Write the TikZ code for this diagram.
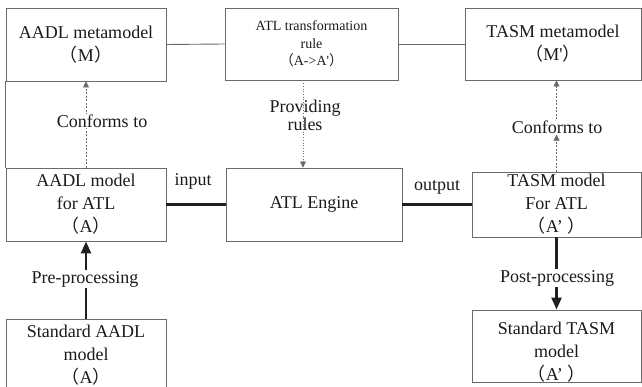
\documentclass[tikz,border=0pt]{standalone}
\usepackage{fontspec}
\setmainfont[Ligatures=TeXOff]{Liberation Serif}
\newfontfamily\cjk{Noto Sans CJK SC}
\usetikzlibrary{arrows.meta}
\newcommand{\myLP}{{\cjk （}}
\newcommand{\myRP}{{\cjk ）}}
\definecolor{boxgray}{HTML}{6A6A6A}
\definecolor{txt}{HTML}{1A1A1A}
\definecolor{thick}{HTML}{202020}
\begin{document}
\begin{tikzpicture}[x=1pt,y=-1pt,
  box/.style={draw=boxgray, line width=0.9pt, align=center, inner sep=0pt, text=txt,
    font=\fontsize{18}{23}\selectfont},
  lbl/.style={text=txt, align=center, inner sep=1pt, font=\fontsize{18}{18}\selectfont},
  lblw/.style={lbl, fill=white},
  thickline/.style={draw=thick, line width=2.4pt},
  dashedarrow/.style={draw=boxgray, line width=0.7pt, dashed, dash pattern=on 2pt off 1.5pt,
    -{Triangle[length=6pt,width=6pt]}},
  bigarrow/.style={thickline, -{Triangle[length=12pt,width=10pt]}}
]
\useasboundingbox (0,0) rectangle (642,387);

% boxes
\node[box, minimum width=160pt, minimum height=73pt] (M) at (86,44.5)
  {AADL metamodel\\\myLP M\myRP};
\node[box, minimum width=173pt, minimum height=72pt,
  font=\fontsize{14}{17.5}\selectfont] (R) at (311.5,44)
  {ATL transformation\\rule\\\myLP A->A'\myRP};
\node[box, minimum width=176pt, minimum height=72pt] (TM) at (553,44)
  {TASM metamodel\\\myLP M'\myRP};
\node[box, minimum width=160pt, minimum height=73pt] (A) at (86,204.5)
  {AADL model\\for ATL\\\myLP A\myRP};
\node[box, minimum width=176pt, minimum height=73pt] (E) at (314,204.5)
  {ATL Engine};
\node[box, minimum width=169pt, minimum height=65pt] (TA) at (556.5,204.5)
  {TASM model\\For ATL\\\myLP A’ \myRP};
\node[box, minimum width=160pt, minimum height=72pt] (SA) at (86,355)
  {Standard AADL\\model\\\myLP A\myRP};
\node[box, minimum width=169pt, minimum height=72pt] (ST) at (556.5,346) {};
\node[text=txt, align=center, inner sep=0pt, font=\fontsize{18}{23}\selectfont] (STt) at (556.5,352)
  {Standard TASM\\model\\\myLP A’ \myRP};

% connectors between top boxes
\draw[boxgray, line width=0.9pt] (M.east) -- (R.west);
\draw[boxgray, line width=0.9pt] (R.east) -- (TM.west);
\draw[boxgray, line width=1.2pt] (M.south west) -- (A.north west);

% input / output
\draw[thickline] (A.east) -- (E.west);
\draw[thickline] (E.east) -- (TA.west);
\node[lbl] (in) at (193,181) {input};
\node[lbl] (out) at (437,187) {output};

% conforms to (left)
\draw[dashedarrow] (A.north) -- (M.south);
\node[lblw] (c1) at (102,121) {Conforms to};

% conforms to (right)
\node[lblw] (c2) at (557,127) {Conforms to};
\draw[dashedarrow] (TA.north) -- (c2.south -| TA.north);
\draw[dashedarrow] (c2.north -| TA.north) -- (TM.south -| TA.north);

% providing rules
\coordinate (pr) at (303,80);
\draw[boxgray, line width=0.7pt, dotted, -{Triangle[length=6pt,width=6pt]}]
  (R.south -| pr) -- (E.north -| pr);
\node[lbl] (prl) at (305,115) {Providing\\rules};

% pre/post processing
\draw[bigarrow] (SA.north) -- (A.south);
\node[lblw] (pre) at (85,279) {Pre-processing};
\draw[bigarrow] (TA.south) -- (ST.north);
\node[lblw] (post) at (557,278) {Post-processing};
\end{tikzpicture}
\end{document}
